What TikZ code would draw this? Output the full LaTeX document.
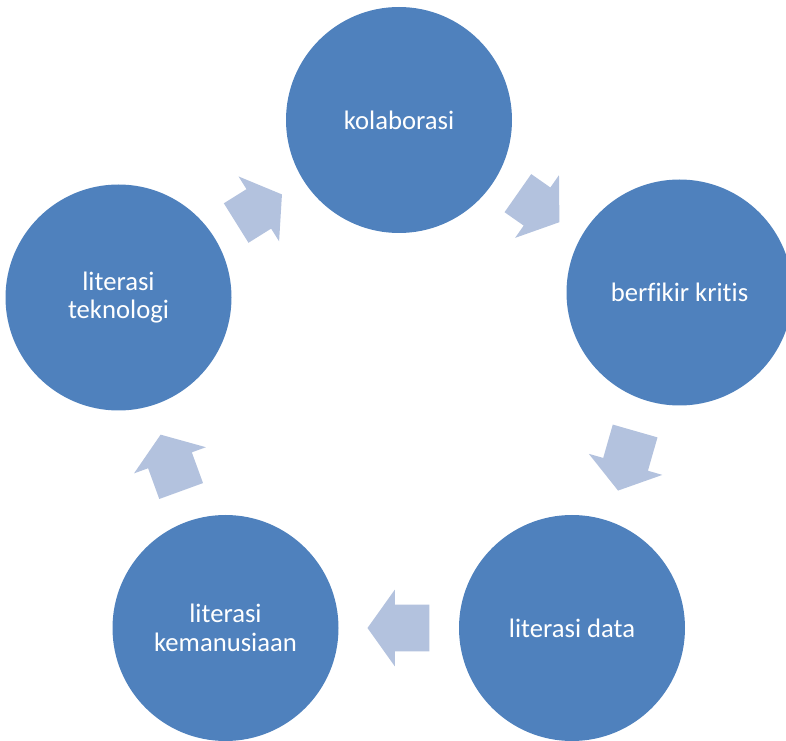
\documentclass[tikz,border=0pt]{standalone}
\usepackage{fontspec}
\setmainfont{Carlito}[Ligatures=NoCommon]
\usetikzlibrary{shapes.arrows,calc}
\definecolor{ringblue}{RGB}{79,129,189}
\definecolor{arrowblue}{RGB}{179,194,222}

\begin{document}
\begin{tikzpicture}
[x=0.75pt, y=0.75pt,
 topic/.style = {circle, fill=ringblue, text=white,
	minimum size=169.5pt, inner sep=0pt, align=center,
	font=\fontsize{20}{21.5}\selectfont},
 flow/.style = {single arrow, fill=arrowblue, anchor=tail,
	inner xsep=0pt, inner ysep=17.25pt, minimum height=#1,
	single arrow head extend=11.25pt, single arrow tip angle=109},
 flow/.default = 42pt]
 \useasboundingbox (0,0) rectangle (786,740);

  \node[topic] (kol)  at (399,620)   {kolaborasi};
  \node[topic] (krit) at (679.5,447.5) {berfikir kritis};
  \node[topic] (data) at (572,112)   {literasi data};
  \node[topic] (kem)  at (225.5,112) {literasi\\kemanusiaan};
  \node[topic] (tek)  at (118.5,442.5) {literasi\\teknologi};

  % block arrows, tail set back half their length from the midpoint
  \node[flow=40.5pt, rotate=32]   (tekkol)   at ($(tek)!0.5!(kol)!20.25pt!(tek)$)   {};
  \node[flow=38pt,   rotate=-35]  (kolkrit)  at ($(kol)!0.5!(krit)!19pt!(kol)$)     {};
  \node[flow=46.5pt, rotate=-106] (kritdata) at ($(krit)!0.5!(data)!23.25pt!(krit)$) {};
  \node[flow=46.5pt, rotate=180]  (datakem)  at ($(data)!0.5!(kem)!23.25pt!(data)$)  {};
  \node[flow=45pt,   rotate=110]  (kemtek)   at ($(kem)!0.5!(tek)!22.5pt!(kem)$)    {};
\end{tikzpicture}
\end{document}
